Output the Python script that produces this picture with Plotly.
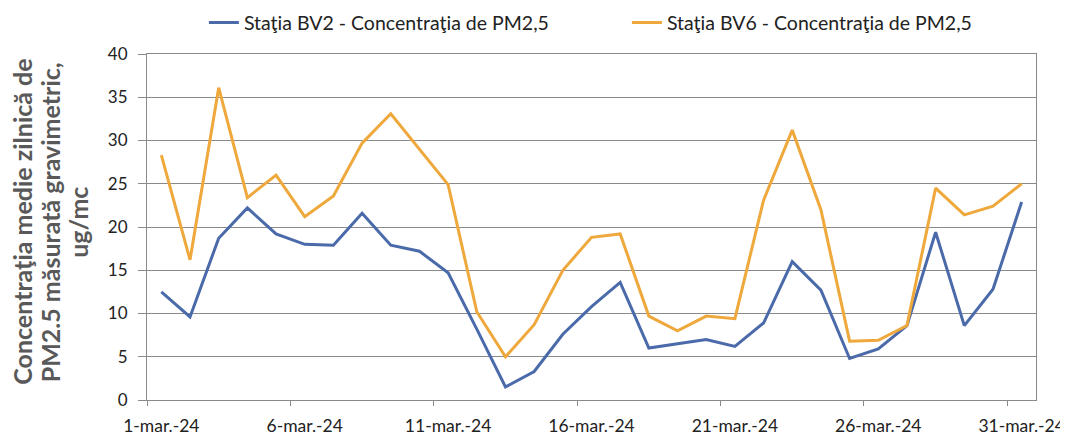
import plotly.graph_objects as go
import pandas as pd

# daily values, March 2024
DATES = pd.date_range("2024-03-01", "2024-03-31", freq="D")
BV2_PM25 = [12.5, 9.6, 18.7, 22.2, 19.2, 18.0, 17.9, 21.6, 17.9, 17.2,
            14.7, 8.2, 1.5, 3.3, 7.6, 10.8, 13.6, 6.0, 6.5, 7.0,
            6.2, 8.9, 16.0, 12.7, 4.8, 5.9, 8.6, 19.4, 8.6, 12.8, 22.9]
BV6_PM25 = [28.3, 16.2, 36.1, 23.4, 26.0, 21.2, 23.6, 29.7, 33.1, 29.0,
            24.9, 10.2, 5.0, 8.7, 15.0, 18.8, 19.2, 9.7, 8.0, 9.7,
            9.4, 23.1, 31.2, 22.0, 6.8, 6.9, 8.6, 24.5, 21.4, 22.4, 25.0]
TICK_DATES = ["2024-03-01", "2024-03-06", "2024-03-11", "2024-03-16",
              "2024-03-21", "2024-03-26", "2024-03-31"]
TICK_TEXT = ["1-mar.-24", "6-mar.-24", "11-mar.-24", "16-mar.-24",
             "21-mar.-24", "26-mar.-24", "31-mar.-24"]
Y_TITLE_LINES = ["Concentraţia medie zilnică de",
                 "PM2.5 măsurată gravimetric,",
                 "ug/mc"]

BLUE = "#4a6aaa"
ORANGE = "#eea83c"
GRID = "#8a8a8a"
FONT = "Lato"

fig = go.Figure()
fig.add_trace(go.Scatter(x=DATES, y=BV2_PM25, mode="lines",
                         name="Staţia BV2 - Concentraţia de PM2,5",
                         line=dict(color=BLUE, width=3)))
fig.add_trace(go.Scatter(x=DATES, y=BV6_PM25, mode="lines",
                         name="Staţia BV6 - Concentraţia de PM2,5",
                         line=dict(color=ORANGE, width=3)))

# page body has an 8px margin, so the figure is a bit smaller than the window
fig.update_layout(
    width=1060, height=430,
    paper_bgcolor="white", plot_bgcolor="white",
    margin=dict(l=139, r=32, t=46, b=38, autoexpand=False),
    font=dict(family=FONT, size=17, color="#222222"),
    legend=dict(orientation="h", yanchor="middle", xanchor="left",
                x=0.064, y=1.09, entrywidth=378, itemwidth=30,
                font=dict(family=FONT, size=19.5, color="#222222"),
                bgcolor="rgba(0,0,0,0)"),
)

fig.update_xaxes(
    type="date",
    range=["2024-02-29 12:00", "2024-03-31 12:00"],
    tickmode="array", tickvals=TICK_DATES, ticktext=TICK_TEXT,
    ticks="", showgrid=False,
    showline=True, linecolor=GRID, linewidth=1, mirror=True,
    ticklabelstandoff=10,
    tickfont=dict(family=FONT, size=17.5, color="#222222"),
    minor=dict(ticks="outside", ticklen=5, tickcolor=GRID,
               tick0="2024-02-29 12:00", dtick=5 * 86400000, showgrid=False),
)
fig.update_yaxes(
    range=[0, 40], dtick=5,
    showgrid=True, gridcolor=GRID, gridwidth=1,
    showline=True, linecolor=GRID, linewidth=1, mirror=True,
    ticks="outside", ticklen=8, tickcolor=GRID,
    ticklabelstandoff=7,
    tickfont=dict(family=FONT, size=17, color="#222222"),
    zeroline=False,
)

# y title as three rotated lines so the line spacing can be set
for line, xpos in zip(Y_TITLE_LINES, [-0.14, -0.109, -0.078]):
    fig.add_annotation(
        text=line, xref="paper", yref="paper", x=xpos, y=0.514,
        xanchor="center", yanchor="middle", textangle=-90, showarrow=False,
        font=dict(family=FONT, size=25, color="#595959", weight="bold"),
    )

fig.write_html("out.html")
